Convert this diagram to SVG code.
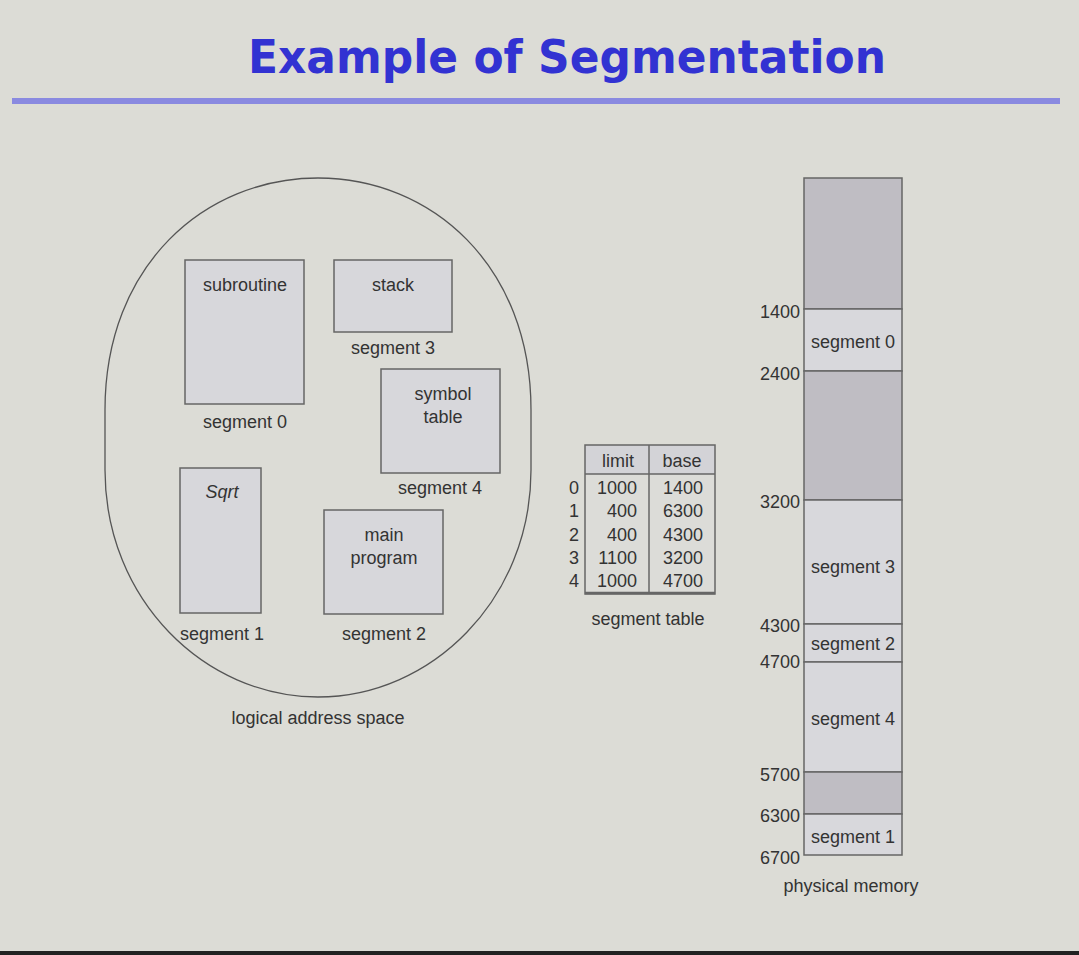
<svg xmlns="http://www.w3.org/2000/svg" width="1079" height="955" viewBox="0 0 1079 955">
<style>
.t{font-family:"Liberation Sans",Arial,sans-serif;font-size:18px;fill:#333;text-anchor:middle}
.n{font-family:"Liberation Sans",Arial,sans-serif;font-size:18px;fill:#333;text-anchor:end}
.box{fill:#d7d7db;stroke:#666;stroke-width:1.5}
.free{fill:#bfbdc3;stroke:#666;stroke-width:1.5}
.seg{fill:#d8d8dc;stroke:#666;stroke-width:1.5}
</style>
<rect width="1079" height="955" fill="#dcdcd6"/>
<rect x="0" y="951" width="1079" height="4" fill="#222"/>
<g id="title">
<text x="567" y="73" font-family="DejaVu Sans,Verdana,sans-serif" font-weight="bold" font-size="47" fill="#3232d2" text-anchor="middle" textLength="638" lengthAdjust="spacingAndGlyphs">Example of Segmentation</text>
<rect x="12" y="98" width="1048" height="6" fill="#8a8ae0"/>
</g>
<g id="logical-address-space">
<path d="M105,410 C105,265 205,178 318,178 C431,178 531,265 531,410 L531,470 C531,600 431,697 318,697 C205,697 105,600 105,470 Z" fill="none" stroke="#555" stroke-width="1.3"/>
<text class="t" x="318" y="724">logical address space</text>
</g>
<g id="seg0">
<rect class="box" x="185" y="260" width="119" height="144"/>
<text class="t" x="245" y="291">subroutine</text>
<text class="t" x="245" y="428">segment 0</text>
</g>
<g id="seg3">
<rect class="box" x="334" y="260" width="118" height="72"/>
<text class="t" x="393" y="291">stack</text>
<text class="t" x="393" y="354">segment 3</text>
</g>
<g id="seg4">
<rect class="box" x="381" y="369" width="119" height="104"/>
<text class="t" x="443" y="400">symbol</text>
<text class="t" x="443" y="423">table</text>
<text class="t" x="440" y="494">segment 4</text>
</g>
<g id="seg1">
<rect class="box" x="180" y="468" width="81" height="145"/>
<text class="t" x="222" y="498" font-style="italic">Sqrt</text>
<text class="t" x="222" y="640">segment 1</text>
</g>
<g id="seg2">
<rect class="box" x="324" y="510" width="119" height="104"/>
<text class="t" x="384" y="541">main</text>
<text class="t" x="384" y="564">program</text>
<text class="t" x="384" y="640">segment 2</text>
</g>
<g id="segment-table">
<rect x="585" y="445" width="130" height="29" fill="#d3d3d7"/>
<rect x="585" y="474" width="130" height="120" fill="#dcdcd8"/>
<path d="M585,445 H715 V594 H585 Z M649,445 V594 M585,474 H715" fill="none" stroke="#666" stroke-width="1.5"/>
<line x1="585" y1="593" x2="715" y2="593" stroke="#666" stroke-width="2.5"/>
<text class="t" x="618" y="467">limit</text>
<text class="t" x="682" y="467">base</text>
<text class="n" x="579" y="494">0</text>
<text class="n" x="579" y="517">1</text>
<text class="n" x="579" y="541">2</text>
<text class="n" x="579" y="564">3</text>
<text class="n" x="579" y="587">4</text>
<text class="n" x="637" y="494">1000</text>
<text class="n" x="637" y="517">400</text>
<text class="n" x="637" y="541">400</text>
<text class="n" x="637" y="564">1100</text>
<text class="n" x="637" y="587">1000</text>
<text class="n" x="703" y="494">1400</text>
<text class="n" x="703" y="517">6300</text>
<text class="n" x="703" y="541">4300</text>
<text class="n" x="703" y="564">3200</text>
<text class="n" x="703" y="587">4700</text>
<text class="t" x="648" y="625">segment table</text>
</g>
<g id="physical-memory">
<rect class="free" x="804" y="178" width="98" height="131"/>
<rect class="seg" x="804" y="309" width="98" height="62"/>
<rect class="free" x="804" y="371" width="98" height="129"/>
<rect class="seg" x="804" y="500" width="98" height="124"/>
<rect class="seg" x="804" y="624" width="98" height="38"/>
<rect class="seg" x="804" y="662" width="98" height="110"/>
<rect class="free" x="804" y="772" width="98" height="42"/>
<rect class="seg" x="804" y="814" width="98" height="41"/>
<text class="t" x="853" y="348">segment 0</text>
<text class="t" x="853" y="573">segment 3</text>
<text class="t" x="853" y="650">segment 2</text>
<text class="t" x="853" y="725">segment 4</text>
<text class="t" x="853" y="843">segment 1</text>
<text class="n" x="800" y="318">1400</text>
<text class="n" x="800" y="380">2400</text>
<text class="n" x="800" y="508">3200</text>
<text class="n" x="800" y="632">4300</text>
<text class="n" x="800" y="668">4700</text>
<text class="n" x="800" y="781">5700</text>
<text class="n" x="800" y="822">6300</text>
<text class="n" x="800" y="864">6700</text>
<text class="t" x="851" y="892">physical memory</text>
</g>
</svg>
